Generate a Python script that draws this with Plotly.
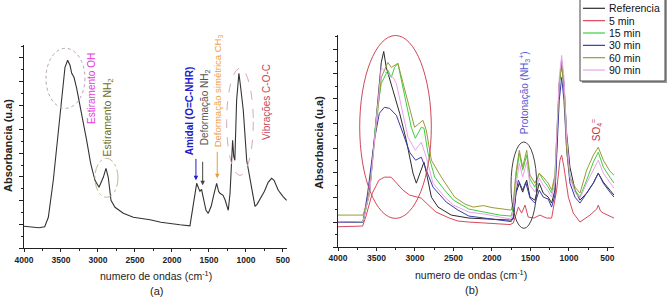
import plotly.graph_objects as go

# ---------------- data ----------------
# (a) reference spectrum
a_wn = [4000, 3900, 3800, 3720, 3671, 3604, 3536, 3491, 3446, 3410, 3378, 3355, 3324, 3288, 3220,
        3153, 3099, 3041, 2986, 2928, 2892, 2861, 2824, 2770, 2658, 2523, 2388, 2297, 2150, 2068,
        1892, 1757, 1734, 1700, 1666, 1640, 1622, 1600, 1570, 1540, 1509, 1470, 1430, 1396, 1370,
        1351, 1309, 1280, 1239, 1215, 1193, 1180, 1165, 1150, 1126, 1110, 1095, 1070, 1036, 1010,
        990, 946, 910, 878, 850, 800, 750, 700, 653, 620, 563, 500, 450]
a_abs = [22, 21, 20.5, 21.5, 31, 68, 118, 151, 181, 188, 183, 175, 171, 160, 135,
         108, 85, 68, 61, 71, 80, 71, 48, 41, 35, 31, 29.5, 28.5, 26, 25,
         23.5, 22.5, 33, 50, 65, 60, 57, 59, 48, 38, 35, 42, 55, 65, 57,
         55, 53, 48, 38, 55, 88, 108, 92, 88, 148, 168, 175, 160, 138, 110,
         88, 70, 55, 42, 44, 50, 57, 66, 70, 68, 58, 52, 48]

# (b) series
ref_wn = [4000, 3800, 3675, 3588, 3503, 3438, 3406, 3373, 3286, 3199, 3113, 3026, 2983, 2918, 2883,
          2840, 2787, 2701, 2529, 2300, 2100, 1900, 1766, 1723, 1688, 1645, 1601, 1549, 1506, 1442,
          1386, 1334, 1269, 1225, 1182, 1160, 1126, 1095, 1065, 1030, 987, 922, 857, 770, 684,
          619, 554, 468, 415]
ref_abs = [25, 25, 25.5, 57, 134, 185, 196, 180, 157, 134, 107, 74, 64, 77, 85,
           70, 50, 40, 32, 29, 28, 27.5, 27, 28, 54, 64, 55, 67, 50, 47,
           64, 54, 50, 44, 57, 97, 164, 182, 164, 114, 80, 57, 47, 54, 64,
           74, 65, 57, 52]

m5_wn = [4000, 3800, 3680, 3640, 3554, 3468, 3398, 3310, 3242, 3156, 3070, 2983, 2918, 2853, 2727,
         2554, 2442, 2300, 2000, 1766, 1723, 1680, 1657, 1615, 1571, 1530, 1455, 1377, 1290, 1225,
         1160, 1117, 1095, 1065, 1008, 944, 857, 727, 640, 619, 590, 554, 415]
m5_abs = [20.3, 20.3, 21, 30, 54, 67, 70, 70, 64, 57, 52, 50, 49, 44, 35,
          29, 26, 25, 23.5, 22.5, 24, 34, 40, 34, 42, 30, 29, 32, 29, 29,
          57, 87, 92, 80, 50, 34, 25, 32, 38, 42, 36, 34, 29]

m15_wn = [4000, 3800, 3675, 3588, 3503, 3438, 3395, 3352, 3308, 3265, 3222, 3178, 3113, 3048, 2996,
          2918, 2883, 2831, 2744, 2614, 2500, 2300, 2100, 1900, 1750, 1723, 1688, 1645, 1601, 1549,
          1506, 1442, 1386, 1334, 1269, 1225, 1182, 1160, 1126, 1095, 1065, 1030, 987, 922, 857,
          770, 684, 619, 554, 468, 415]
m15_abs = [24.5, 24.5, 25, 55, 130, 164, 170, 177, 170, 180, 184, 167, 144, 120, 109,
           120, 119, 94, 70, 57, 47, 38, 35, 32, 31, 40, 70, 94, 77, 92,
           68, 60, 74, 67, 60, 54, 70, 110, 164, 187, 164, 104, 70, 57, 50,
           67, 85, 95, 80, 70, 64]

m30_wn = [4000, 3800, 3675, 3615, 3528, 3463, 3398, 3330, 3242, 3156, 3070, 2992, 2918, 2853, 2766,
          2593, 2442, 2300, 2100, 1900, 1750, 1723, 1688, 1657, 1601, 1562, 1506, 1442, 1386, 1334,
          1269, 1225, 1182, 1160, 1126, 1095, 1065, 1030, 987, 922, 857, 770, 684, 619, 554,
          468, 415]
m30_abs = [24.5, 24.5, 25, 54, 107, 134, 140, 139, 132, 114, 95, 87, 90, 77, 60,
           45, 37, 31, 29, 27, 25.5, 30, 55, 67, 57, 65, 49, 44, 57, 50,
           48, 40, 52, 90, 147, 170, 147, 97, 64, 50, 44, 54, 64, 74, 64,
           55, 50]

m60_wn = [4000, 3800, 3675, 3600, 3503, 3438, 3352, 3308, 3222, 3157, 3091, 3005, 2897, 2853, 2787,
          2658, 2485, 2350, 2243, 2113, 2000, 1850, 1750, 1723, 1688, 1645, 1601, 1549, 1506, 1442,
          1386, 1334, 1269, 1225, 1182, 1160, 1126, 1095, 1065, 1030, 987, 922, 857, 770, 684,
          619, 554, 468, 415]
m60_abs = [32, 32, 32, 50, 125, 170, 185, 180, 184, 164, 144, 120, 127, 117, 87,
           70, 50, 43, 40, 41.5, 39.5, 38, 37, 45, 75, 97, 80, 97, 72, 64,
           74, 70, 64, 57, 72, 110, 163, 185, 160, 97, 70, 60, 54, 77, 92,
           100, 87, 76, 72]

m90_wn = [4000, 3800, 3675, 3588, 3503, 3438, 3373, 3286, 3242, 3178, 3091, 2996, 2918, 2853, 2766,
          2614, 2500, 2300, 2100, 1900, 1750, 1723, 1688, 1645, 1601, 1549, 1506, 1442, 1386, 1334,
          1269, 1225, 1182, 1160, 1126, 1095, 1065, 1030, 987, 922, 857, 770, 684, 619, 554,
          468, 415]
m90_abs = [25, 25, 25.5, 55, 125, 180, 174, 170, 164, 140, 110, 97, 105, 90, 64,
           50, 42, 35, 33, 30, 28, 35, 62, 84, 70, 85, 62, 55, 69, 62,
           56, 50, 65, 110, 170, 192, 170, 110, 70, 55, 49, 64, 77, 87, 74,
           64, 59]

series_names = ["Referencia", "5 min", "15 min", "30 min", "60 min", "90 min"]
series_colors = ["#2a2a2a", "#d8485a", "#3ccf3c", "#3a3aa8", "#9a9a38", "#eaa2ea"]
series_x = [ref_wn, m5_wn, m15_wn, m30_wn, m60_wn, m90_wn]
series_y = [ref_abs, m5_abs, m15_abs, m30_abs, m60_abs, m90_abs]

x_ticks = [4000, 3500, 3000, 2500, 2000, 1500, 1000, 500]

FONT = "Liberation Sans, Arial, sans-serif"
W, H = 669, 297

fig = go.Figure()

fig.add_trace(go.Scatter(x=a_wn, y=a_abs, mode="lines", name="Referencia",
                         line=dict(color="#333333", width=1.1), showlegend=False,
                         xaxis="x", yaxis="y"))

for nm, col, xs, ys in zip(series_names, series_colors, series_x, series_y):
    fig.add_trace(go.Scatter(x=xs, y=ys, mode="lines", name=nm,
                             line=dict(color=col, width=1), showlegend=False,
                             xaxis="x2", yaxis="y2"))

def xax(domain, rng, anchor):
    return dict(domain=domain, range=rng, anchor=anchor, showgrid=False, zeroline=False,
                automargin=False, showline=True, linecolor="#222", linewidth=1,
                ticks="outside", ticklen=3, tickcolor="#222", tickvals=x_ticks,
                tickfont=dict(family=FONT, size=8.5, color="#222", weight="bold"),
                minor=dict(dtick=250, tick0=0, ticks="outside", ticklen=2, tickcolor="#222"))

def yax(domain, rng, anchor, dt):
    return dict(domain=domain, range=rng, anchor=anchor, showgrid=False, zeroline=False,
                automargin=False, showline=True, linecolor="#222", linewidth=1,
                showticklabels=False,
                ticks="outside", ticklen=4, tickcolor="#222", tick0=0, dtick=dt,
                minor=dict(dtick=dt / 2, tick0=0, ticks="outside", ticklen=2.5, tickcolor="#222"))

fig.update_layout(
    template="none",
    width=W, height=H, autosize=False,
    margin=dict(l=0, r=0, t=0, b=0, pad=0),
    paper_bgcolor="white", plot_bgcolor="white",
    showlegend=False,
    xaxis=xax([24 / W, 287 / W], [4000, 445], "y"),
    yaxis=yax([1 - 248.3 / H, 1 - 45 / H], [0, 203.3], "x", 23.8),
    xaxis2=xax([338 / W, 614 / W], [4000, 415], "y2"),
    yaxis2=yax([1 - 247 / H, 1 - 35 / H], [0, 212.5], "x2", 24.8),
)

def pann(text, xp, yp, size, color="#222", weight="normal", angle=0, xanchor="center"):
    return dict(text=text, x=xp / W, y=1 - yp / H, xref="paper", yref="paper",
                xanchor=xanchor, yanchor="middle", showarrow=False, textangle=angle,
                font=dict(family=FONT, size=size, color=color, weight=weight))

ann = []
# axis titles and panel labels
xt = "numero de ondas (cm<sup>-1</sup>)"
ann.append(pann(xt, 156, 275, 10.5))
ann.append(pann(xt, 471, 274, 10.5))
ann.append(pann("(a)", 156, 291, 11))
ann.append(pann("(b)", 471, 290, 11))
ann.append(pann("Absorbancia (u.a)", 8, 146, 11, weight="bold", angle=-90))
ann.append(pann("Absorbancia (u.a)", 319, 143, 11, weight="bold", angle=-90))

# rotated band labels, panel (a)
labels_a = [
    ("Estiramento OH", 3085, 160, "#e23ce0", 10, "normal"),
    ("Estiramento NH<sub>2</sub>", 2861, 131, "#6e6e1e", 10.5, "normal"),
    ("Amidal (O=C-NHR)", 1770, 138, "#2020c8", 10, "bold"),
    ("Deformação NH<sub>2</sub>", 1554, 141, "#555555", 10, "normal"),
    ("Deformação simétrica CH<sub>3</sub>", 1378, 158, "#eea040", 9.5, "normal"),
    ("Vibrações C-O-C", 720, 146, "#c84858", 10, "normal"),
]
for t, x, y, c, s, w in labels_a:
    ann.append(dict(text=t, x=x, y=y, xref="x", yref="y", showarrow=False, textangle=-90,
                    xanchor="center", yanchor="middle",
                    font=dict(family=FONT, size=s, color=c, weight=w)))

labels_b = [
    ("Protonação (NH<sub>3</sub><sup>+</sup>)", 1584, 154, "#5a5ad0", 10),
    ("SO<sub>4</sub><sup>=</sup>", 649, 117, "#c83040", 10),
]
for t, x, y, c, s in labels_b:
    ann.append(dict(text=t, x=x, y=y, xref="x2", yref="y2", showarrow=False, textangle=-90,
                    xanchor="center", yanchor="middle",
                    font=dict(family=FONT, size=s, color=c)))

# arrows in panel (a)
for x, yh, yt, c in [(1676, 68, 91, "#2020c8"), (1585, 63, 88, "#444444"), (1388, 70, 98, "#ee9a30")]:
    ann.append(dict(x=x, y=yh, ax=x, ay=yt, xref="x", yref="y", axref="x", ayref="y", text="",
                    showarrow=True, arrowhead=2, arrowsize=0.9, arrowwidth=1, arrowcolor=c))

shapes = []
# ellipses
shapes.append(dict(type="circle", xref="x", yref="y", x0=3703, x1=3176, y0=140, y1=200,
                   line=dict(color="#b8a0b8", width=1, dash="dot")))
shapes.append(dict(type="circle", xref="x", yref="y", x0=3041, x1=2730, y0=51, y1=90,
                   line=dict(color="#c0b890", width=1, dash="dashdot")))
shapes.append(dict(type="circle", xref="x", yref="y", x0=1261, x1=901, y0=73, y1=180,
                   line=dict(color="#d8a8b0", width=1, dash="dash")))
shapes.append(dict(type="circle", xref="x2", yref="y2", x0=3718, x1=2788, y0=28.7, y1=212,
                   line=dict(color="#d04858", width=1)))
shapes.append(dict(type="circle", xref="x2", yref="y2", x0=1753, x1=1419, y0=18.7, y1=105.3,
                   line=dict(color="#444444", width=1)))

# legend box (manual, compact like the original)
lx0, lx1, ly1 = 580, 665, 81
shapes.append(dict(type="rect", xref="paper", yref="paper", x0=(lx0 + 2) / W, x1=(lx1 + 2) / W,
                   y0=1 - (ly1 + 2) / H, y1=1.02, line=dict(width=0), fillcolor="#9a9a9a"))
shapes.append(dict(type="rect", xref="paper", yref="paper", x0=lx0 / W, x1=lx1 / W,
                   y0=1 - ly1 / H, y1=1.02, line=dict(color="#444", width=1), fillcolor="white"))
for i, (nm, col) in enumerate(zip(series_names, series_colors)):
    yy = 8.3 + i * 12.35
    shapes.append(dict(type="line", xref="paper", yref="paper", x0=583 / W, x1=605 / W,
                       y0=1 - yy / H, y1=1 - yy / H, line=dict(color=col, width=1.2)))
    ann.append(pann(nm, 607, yy, 10.5, color="#111", xanchor="left"))

fig.update_layout(annotations=ann, shapes=shapes)
fig.write_html("out.html", config={"displayModeBar": False},
               post_script="document.body.style.margin='0';document.body.style.overflow='hidden';")
